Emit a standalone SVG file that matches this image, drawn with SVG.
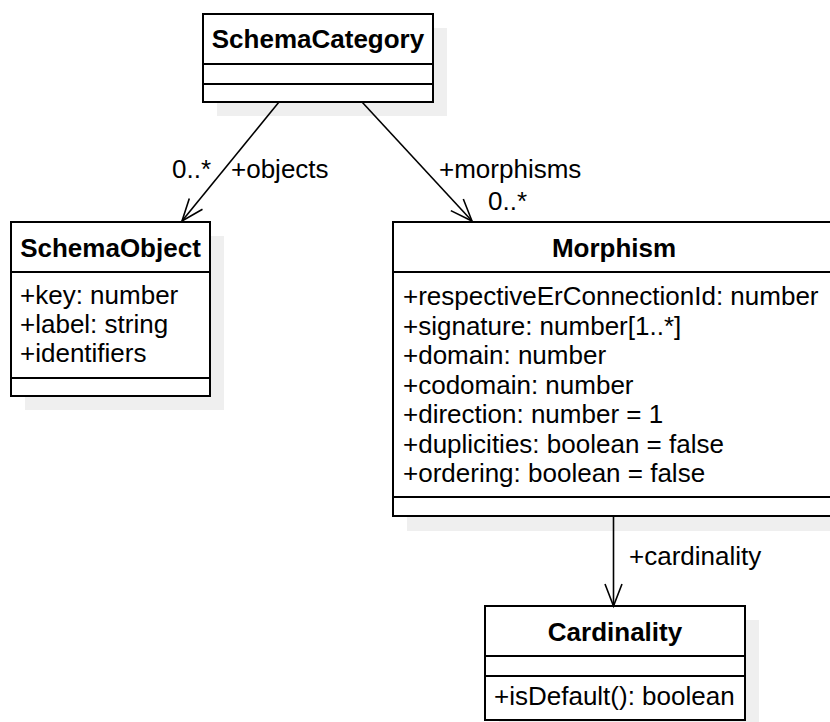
<svg xmlns="http://www.w3.org/2000/svg" width="830" height="722" viewBox="0 0 830 722">
<style>
.shadow{fill:#efefef;stroke:none}
.box{fill:#ffffff;stroke:#000000;stroke-width:2}
.div{stroke:#000000;stroke-width:2}
text{font-family:"Liberation Sans",Arial,sans-serif;font-size:26px;fill:#000000}
.title{font-weight:bold;text-anchor:middle}
.edge{stroke:#000000;stroke-width:1.6;fill:none}
</style>
<defs>
<marker id="open" markerUnits="userSpaceOnUse" markerWidth="30" markerHeight="30" viewBox="-25 -12 30 24" refX="0" refY="0" orient="auto">
<path d="M -22 -8.5 L 0 0 L -22 8.5" fill="none" stroke="#000000" stroke-width="1.6"/>
</marker>
</defs>
<rect width="830" height="722" fill="#ffffff"/>
<g id="SchemaCategory">
<rect class="shadow" x="217" y="28" width="230" height="88"/>
<rect class="box" x="203" y="14" width="230" height="88"/>
<line class="div" x1="203" y1="64" x2="433" y2="64"/>
<line class="div" x1="203" y1="84" x2="433" y2="84"/>
<text class="title" x="318" y="48">SchemaCategory</text>
</g>
<g id="SchemaObject">
<rect class="shadow" x="25" y="236" width="199" height="174"/>
<rect class="box" x="11" y="222" width="199" height="174"/>
<line class="div" x1="11" y1="272" x2="210" y2="272"/>
<line class="div" x1="11" y1="378" x2="210" y2="378"/>
<text class="title" x="110.5" y="257">SchemaObject</text>
<text x="20" y="304">+key: number</text>
<text x="20" y="333">+label: string</text>
<text x="20" y="362">+identifiers</text>
</g>
<g id="Morphism">
<rect class="shadow" x="407" y="236" width="442" height="295"/>
<rect class="box" x="393" y="222" width="442" height="294"/>
<line class="div" x1="393" y1="272" x2="835" y2="272"/>
<line class="div" x1="393" y1="497" x2="835" y2="497"/>
<text class="title" x="614" y="257">Morphism</text>
<text x="403" y="305">+respectiveErConnectionId: number</text>
<text x="403" y="334.5">+signature: number[1..*]</text>
<text x="403" y="364">+domain: number</text>
<text x="403" y="393.5">+codomain: number</text>
<text x="403" y="423">+direction: number = 1</text>
<text x="403" y="452.5">+duplicities: boolean = false</text>
<text x="403" y="482">+ordering: boolean = false</text>
</g>
<g id="Cardinality">
<rect class="shadow" x="499" y="620" width="260" height="114"/>
<rect class="box" x="485" y="606" width="260" height="114"/>
<line class="div" x1="485" y1="656" x2="745" y2="656"/>
<line class="div" x1="485" y1="676" x2="745" y2="676"/>
<text class="title" x="615" y="641">Cardinality</text>
<text x="494" y="705">+isDefault(): boolean</text>
</g>
<g id="connectors">
<line class="edge" x1="279" y1="102" x2="182" y2="221" marker-end="url(#open)"/>
<line class="edge" x1="362" y1="102" x2="472" y2="221" marker-end="url(#open)"/>
<line class="edge" x1="613.5" y1="516" x2="613.5" y2="606" marker-end="url(#open)"/>
<text x="172" y="178">0..*</text>
<text x="231" y="178">+objects</text>
<text x="439" y="178">+morphisms</text>
<text x="488" y="210">0..*</text>
<text x="629" y="565">+cardinality</text>
</g>
</svg>
